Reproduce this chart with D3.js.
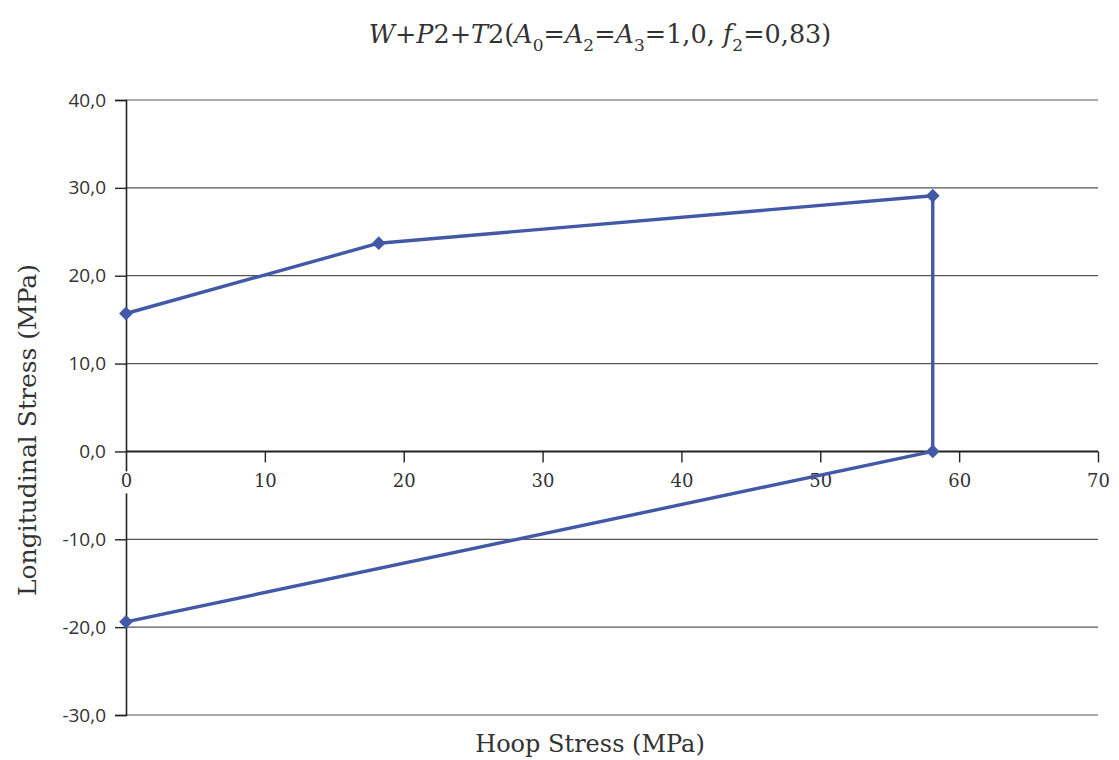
<!DOCTYPE html>
<html>
<head>
<meta charset="utf-8">
<script src="https://cdn.jsdelivr.net/npm/d3@7"></script>
<style>
  html, body { margin: 0; padding: 0; background: #fff; }
  svg { display: block; }
</style>
</head>
<body>
<svg id="chart" width="1119" height="760"></svg>
<script>
// Stress envelope: hoop stress (x) vs longitudinal stress (y), MPa
const hoopStress = [0, 18.2, 58.1, 58.1, 0];
const longStress = [15.7, 23.7, 29.1, 0.0, -19.4];
const xTicks = [0, 10, 20, 30, 40, 50, 60, 70];
const yTicks = [40, 30, 20, 10, 0, -10, -20, -30];
const yTickLabels = ["40,0", "30,0", "20,0", "10,0", "0,0", "-10,0", "-20,0", "-30,0"];

const svg = d3.select("#chart");

const x = d3.scaleLinear().domain([0, 70]).range([126, 1098]);
const y = d3.scaleLinear().domain([-30, 40]).range([715, 100]);

const serif = "'DejaVu Serif', 'Liberation Serif', serif";
const sans = "'Open Sans', 'Noto Sans', sans-serif";
const blue = "#4358a6";

// Horizontal gridlines
svg.append("g")
  .selectAll("line")
  .data(yTicks.filter(v => v !== 0))
  .join("line")
  .attr("x1", x(0)).attr("x2", x(70))
  .attr("y1", d => y(d)).attr("y2", d => y(d))
  .attr("stroke", "#555").attr("stroke-width", 1.2);

// Y axis with ticks to the left
const yAxis = d3.axisLeft(y)
  .tickValues(yTicks)
  .tickSize(11)
  .tickPadding(9)
  .tickFormat((d, i) => yTickLabels[i]);
const gy = svg.append("g").attr("transform", `translate(${x(0)},0)`).call(yAxis);
gy.select(".domain").attr("stroke", "#222").attr("stroke-width", 1.6);
gy.selectAll(".tick line").attr("stroke", "#222").attr("stroke-width", 1.4);
gy.selectAll(".tick text")
  .attr("fill", "#333")
  .style("font-family", sans)
  .style("font-size", "19px");

// X axis drawn at longitudinal stress = 0
const xAxis = d3.axisBottom(x)
  .tickValues(xTicks)
  .tickSize(11)
  .tickPadding(12)
  .tickFormat(d3.format("d"));
const gx = svg.append("g").attr("transform", `translate(0,${y(0)})`).call(xAxis);
gx.select(".domain").attr("stroke", "#222").attr("stroke-width", 2)
  .attr("d", `M${x(0)},0H${x(70)}`);
gx.selectAll(".tick line").attr("stroke", "#222").attr("stroke-width", 1.4);
gx.selectAll(".tick").filter(d => d === 0).select("line").remove();
gx.selectAll(".tick text")
  .attr("fill", "#333")
  .style("font-family", serif)
  .style("font-size", "18px");
// the zero label sits on the y axis, so give it a white backing
gx.selectAll(".tick").filter(d => d === 0).insert("rect", "text")
  .attr("x", -7).attr("y", 20).attr("width", 14).attr("height", 22)
  .attr("fill", "#fff");

// Data line with diamond markers
const pts = hoopStress.map((h, i) => [h, longStress[i]]);
const line = d3.line().x(d => x(d[0])).y(d => y(d[1]));
svg.append("path")
  .datum(pts)
  .attr("d", line)
  .attr("fill", "none")
  .attr("stroke", blue)
  .attr("stroke-width", 3.4)
  .attr("stroke-linejoin", "round");

svg.append("g")
  .selectAll("path")
  .data(pts)
  .join("path")
  .attr("transform", d => `translate(${x(d[0])},${y(d[1])}) rotate(45)`)
  .attr("d", d3.symbol().type(d3.symbolSquare).size(95))
  .attr("fill", blue);

// Title with italic variables and subscripts
const title = svg.append("text")
  .attr("x", 600).attr("y", 43)
  .attr("text-anchor", "middle")
  .attr("fill", "#333")
  .style("font-family", serif)
  .style("font-size", "25.5px");
const parts = [
  ["W", "i"], ["+", ""], ["P", "i"], ["2+", ""], ["T", "i"], ["2(", ""],
  ["A", "i"], ["0", "s"], ["=", ""], ["A", "i"], ["2", "s"], ["=", ""],
  ["A", "i"], ["3", "s"], ["=1,0, ", ""], ["f", "i"], ["2", "s"], ["=0,83)", ""]
];
let prevSub = false;
parts.forEach(([t, s]) => {
  const ts = title.append("tspan").text(t);
  if (s === "i") ts.style("font-style", "italic");
  if (s === "s") { ts.attr("dy", 8).style("font-size", "17px"); prevSub = true; }
  else if (prevSub) { ts.attr("dy", -8); prevSub = false; }
});

// Axis titles
svg.append("text")
  .attr("x", 590).attr("y", 752)
  .attr("text-anchor", "middle")
  .attr("fill", "#333")
  .style("font-family", serif)
  .style("font-size", "24px")
  .text("Hoop Stress (MPa)");

svg.append("text")
  .attr("transform", "translate(36,430) rotate(-90)")
  .attr("text-anchor", "middle")
  .attr("fill", "#333")
  .style("font-family", serif)
  .style("font-size", "25px")
  .text("Longitudinal Stress (MPa)");
</script>
</body>
</html>
